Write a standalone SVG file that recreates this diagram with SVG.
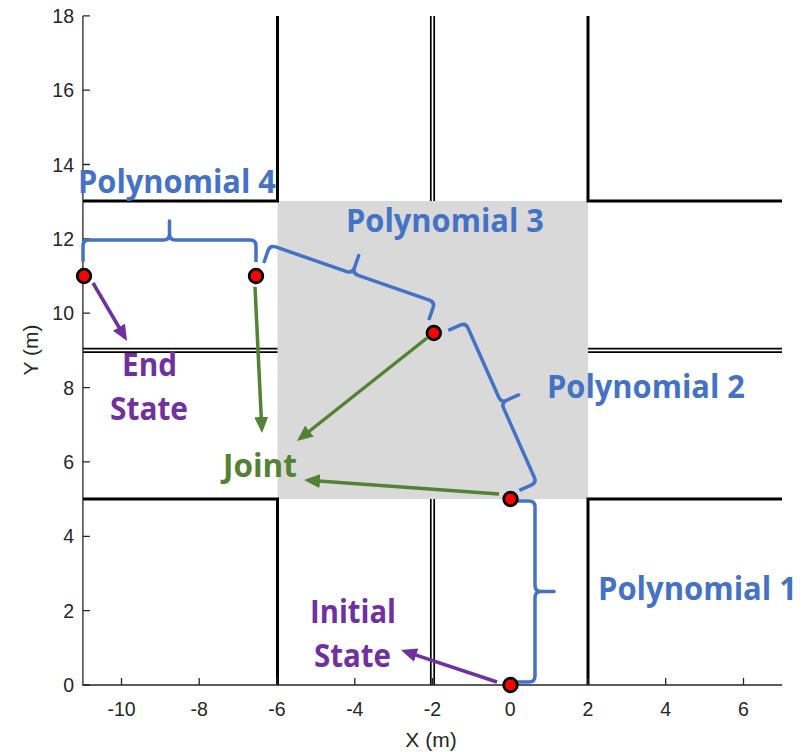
<svg xmlns="http://www.w3.org/2000/svg" width="811" height="752" viewBox="0 0 811 752">
<style>
.wall{stroke:#000;stroke-width:3;fill:none}
.dbl{stroke:#000;stroke-width:1.7;fill:none}
.ax{stroke:#262626;stroke-width:1.3;fill:none}
.tk{font-family:"Liberation Sans",Arial,sans-serif;font-size:19.5px;fill:#262626}
.brace{stroke:#4472c4;stroke-width:3.5;fill:none;stroke-linejoin:round;stroke-linecap:butt}
.lbl{font-family:"Open Sans","Noto Sans",sans-serif;font-weight:700;font-size:31.5px}
.blue{fill:#4472c4}.purple{fill:#7030a0}.green{fill:#548235}
.pa{stroke:#7030a0;stroke-width:3.5;fill:none}
.ga{stroke:#548235;stroke-width:3.5;fill:none}
.dot{fill:#ff0000;stroke:#000;stroke-width:2.8}
</style>
<defs>
<marker id="mp" markerUnits="userSpaceOnUse" markerWidth="16" markerHeight="14" refX="12" refY="7" orient="auto"><path d="M0,0 L16,7 L0,14 z" fill="#7030a0"/></marker>
<marker id="mg" markerUnits="userSpaceOnUse" markerWidth="16" markerHeight="14" refX="12" refY="7" orient="auto"><path d="M0,0 L16,7 L0,14 z" fill="#548235"/></marker>
</defs>
<rect width="811" height="752" fill="#fff"/>
<g id="map">
<rect x="277.5" y="201" width="310.5" height="298" fill="#d9d9d9"/>
<path class="wall" d="M277.5,16 V201 H83 M588,16 V201 H782 M83,499 H277.5 V685 M782,499 H588 V685"/>
<path class="dbl" d="M430.8,16 V201 M434.2,16 V201 M430.8,499 V685 M434.2,499 V685 M83,348.7 H277.5 M83,352.1 H277.5 M588,348.7 H782 M588,352.1 H782"/>
</g>
<g id="axes">
<path class="ax" d="M82.9,16 V685 H782.2"/>
<path class="ax" d="M82.9,685 h7 M82.9,610.6 h7 M82.9,536.3 h7 M82.9,461.9 h7 M82.9,387.6 h7 M82.9,313.2 h7 M82.9,238.8 h7 M82.9,164.5 h7 M82.9,90.1 h7 M82.9,15.8 h7 M121.5,685 v-7 M199.2,685 v-7 M277,685 v-7 M354.8,685 v-7 M432.5,685 v-7 M510.2,685 v-7 M588,685 v-7 M665.7,685 v-7 M743.5,685 v-7"/>
<g class="tk" text-anchor="end">
<text x="74" y="692">0</text><text x="74" y="617.6">2</text><text x="74" y="543.3">4</text><text x="74" y="468.9">6</text><text x="74" y="394.6">8</text><text x="74" y="320.2">10</text><text x="74" y="245.8">12</text><text x="74" y="171.5">14</text><text x="74" y="97.1">16</text><text x="74" y="22.8">18</text>
</g>
<g class="tk" text-anchor="middle">
<text x="121.5" y="716">-10</text><text x="199.2" y="716">-8</text><text x="277" y="716">-6</text><text x="354.8" y="716">-4</text><text x="432.5" y="716">-2</text><text x="510.2" y="716">0</text><text x="588" y="716">2</text><text x="665.7" y="716">4</text><text x="743.5" y="716">6</text>
</g>
<text class="tk" x="431" y="747" text-anchor="middle" style="font-size:21px">X (m)</text>
<text class="tk" transform="translate(37.5,350) rotate(-90)" text-anchor="middle" style="font-size:21px">Y (m)</text>
</g>
<g id="connectors">
<g id="brace4" transform="translate(83,240)"><path class="brace" d="M0,22 V6 Q0,0 6,0 H80.5 Q86.5,0 86.5,-6 V-19 V-6 Q86.5,0 92.5,0 H167 Q173,0 173,6 V22"/></g>
<g id="brace3" transform="translate(270,245) rotate(19.06)"><path class="brace" d="M0,19 V6 Q0,0 6,0 H81.3 Q87.3,0 87.3,-6 V-19 V-6 Q87.3,0 93.3,0 H168.6 Q174.6,0 174.6,6 V19"/></g>
<g id="brace2" transform="translate(465.7,322.7) rotate(66.07)"><path class="brace" d="M0,19 V6 Q0,0 6,0 H81.5 Q87.5,0 87.5,-6 V-19 V-6 Q87.5,0 93.5,0 H169 Q175,0 175,6 V19"/></g>
<g id="brace1" transform="translate(535,501) rotate(90)"><path class="brace" d="M0,18 V6 Q0,0 6,0 H84.5 Q90.5,0 90.5,-6 V-19 V-6 Q90.5,0 96.5,0 H175 Q181,0 181,6 V18"/></g>
<line class="pa" x1="93" y1="283" x2="125" y2="337.5" marker-end="url(#mp)"/>
<line class="pa" x1="497" y1="682" x2="404.8" y2="651.3" marker-end="url(#mp)"/>
<line class="ga" x1="255" y1="287" x2="261.8" y2="429" marker-end="url(#mg)"/>
<line class="ga" x1="427" y1="338" x2="300.1" y2="438.5" marker-end="url(#mg)"/>
<line class="ga" x1="499" y1="494" x2="308" y2="480.3" marker-end="url(#mg)"/>
</g>
<g id="points">
<circle class="dot" cx="84" cy="276" r="6.8"/>
<circle class="dot" cx="256" cy="276" r="6.8"/>
<circle class="dot" cx="433.8" cy="333" r="6.8"/>
<circle class="dot" cx="510.5" cy="499" r="6.8"/>
<circle class="dot" cx="510.5" cy="685" r="6.8"/>
</g>
<g id="labels">
<text class="lbl blue" x="78" y="193" textLength="198" lengthAdjust="spacingAndGlyphs">Polynomial 4</text>
<text class="lbl blue" x="346" y="231.5" textLength="198" lengthAdjust="spacingAndGlyphs">Polynomial 3</text>
<text class="lbl blue" x="547" y="398" textLength="198" lengthAdjust="spacingAndGlyphs">Polynomial 2</text>
<text class="lbl blue" x="598" y="600" textLength="199" lengthAdjust="spacingAndGlyphs">Polynomial 1</text>
<text class="lbl purple" x="310" y="623" textLength="86" lengthAdjust="spacingAndGlyphs">Initial</text>
<text class="lbl purple" x="314" y="667" textLength="77" lengthAdjust="spacingAndGlyphs">State</text>
<text class="lbl purple" x="122" y="375.5" textLength="55" lengthAdjust="spacingAndGlyphs">End</text>
<text class="lbl purple" x="110" y="420" textLength="78" lengthAdjust="spacingAndGlyphs">State</text>
<text class="lbl green" x="223" y="476.5" textLength="74" lengthAdjust="spacingAndGlyphs">Joint</text>
</g>
</svg>
